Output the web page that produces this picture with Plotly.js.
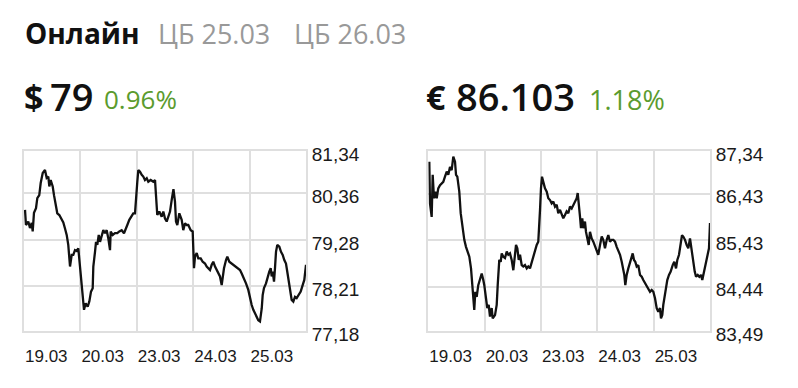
<!DOCTYPE html>
<html>
<head>
<meta charset="utf-8">
<script src="https://cdn.plot.ly/plotly-3.0.1.min.js"></script>
<style>
  html, body { margin: 0; padding: 0; background: #fff; }
  #chart { width: 798px; height: 388px; }
</style>
</head>
<body>
<div id="chart"></div>
<script>
// Trading days shown on both charts (weekend skipped), positioned by day index
const dayLabels = ['19.03', '20.03', '23.03', '24.03', '25.03'];
const dayStarts = [0, 1, 2, 3, 4];

// USD/RUB intraday quotes: position in trading days, rate
const usdDay = [0.018,0.035,0.076,0.106,0.137,0.154,0.177,0.213,0.236,0.271,0.296,0.332,0.372,0.402,0.431,0.449,0.473,0.509,0.532,0.567,0.590,0.626,0.668,0.697,0.727,0.757,0.785,0.803,0.816,0.846,0.874,0.904,0.934,0.963,0.980,1.005,1.023,1.041,1.064,1.094,1.129,1.158,1.188,1.218,1.229,1.259,1.277,1.300,1.325,1.348,1.378,1.406,1.436,1.466,1.495,1.525,1.537,1.573,1.613,1.654,1.690,1.732,1.773,1.809,1.832,1.867,1.910,1.938,1.968,1.986,2.009,2.027,2.057,2.087,2.115,2.145,2.176,2.204,2.246,2.293,2.323,2.340,2.363,2.399,2.441,2.470,2.500,2.530,2.559,2.589,2.619,2.650,2.677,2.695,2.718,2.754,2.796,2.824,2.855,2.885,2.913,2.956,2.991,3.002,3.014,3.032,3.062,3.090,3.133,3.168,3.209,3.239,3.268,3.298,3.328,3.356,3.387,3.417,3.445,3.475,3.505,3.523,3.546,3.582,3.605,3.640,3.683,3.723,3.759,3.800,3.830,3.860,3.901,3.936,3.977,4.007,4.037,4.066,4.096,4.126,4.154,4.184,4.215,4.232,4.255,4.291,4.314,4.349,4.374,4.392,4.410,4.433,4.450,4.468,4.491,4.527,4.557,4.587,4.615,4.645,4.668,4.693,4.716,4.746,4.775,4.805,4.835,4.863,4.906,4.941,4.970,5.000];
const usdRate = [79.98,79.63,79.71,79.56,79.68,79.48,79.91,80.02,80.25,80.32,80.60,80.83,80.90,80.72,80.75,80.52,80.67,80.52,80.32,80.05,79.90,79.86,79.75,79.69,79.55,79.40,79.17,78.94,78.67,78.94,78.94,79.05,79.03,79.09,78.86,78.40,78.17,77.86,77.67,77.82,77.74,77.86,78.09,78.17,78.67,79.01,79.24,79.17,79.40,79.24,79.40,79.51,79.44,79.51,79.32,79.05,79.48,79.40,79.44,79.44,79.48,79.51,79.44,79.59,79.63,79.75,79.86,79.90,79.90,80.32,80.63,80.90,80.86,80.79,80.75,80.67,80.71,80.63,80.67,80.63,80.67,80.32,79.86,79.94,79.82,79.94,79.78,79.71,79.82,79.94,80.21,80.46,80.17,79.71,79.63,79.90,79.75,79.51,79.67,79.63,79.63,79.51,79.48,79.01,78.63,78.90,78.98,78.86,78.86,78.78,78.74,78.67,78.63,78.59,78.71,78.78,78.67,78.59,78.55,78.44,78.24,78.44,78.63,78.82,78.90,78.78,78.74,78.71,78.67,78.63,78.59,78.51,78.40,78.28,78.13,77.94,77.78,77.67,77.59,77.51,77.43,77.40,77.70,78.01,78.17,78.28,78.40,78.55,78.63,78.44,78.55,78.32,78.63,79.01,79.17,79.13,79.01,78.94,78.82,78.74,78.55,78.32,78.09,77.90,77.86,77.97,77.94,78.01,78.09,78.24,78.36,78.71];

// EUR/RUB intraday quotes: position in trading days, rate
const eurDay = [0.018,0.030,0.060,0.078,0.101,0.124,0.149,0.177,0.208,0.238,0.266,0.296,0.327,0.355,0.385,0.415,0.444,0.474,0.492,0.515,0.550,0.575,0.611,0.639,0.669,0.699,0.728,0.758,0.781,0.799,0.816,0.834,0.859,0.887,0.918,0.948,0.976,0.994,1.024,1.047,1.072,1.095,1.125,1.143,1.184,1.214,1.232,1.242,1.260,1.285,1.303,1.331,1.361,1.392,1.420,1.450,1.480,1.509,1.539,1.557,1.580,1.605,1.628,1.658,1.686,1.716,1.747,1.775,1.805,1.835,1.864,1.894,1.924,1.952,1.970,1.983,2.000,2.018,2.041,2.071,2.102,2.130,2.160,2.190,2.219,2.249,2.279,2.307,2.338,2.368,2.396,2.426,2.456,2.485,2.515,2.545,2.574,2.604,2.634,2.652,2.670,2.693,2.710,2.733,2.751,2.781,2.799,2.822,2.847,2.870,2.900,2.929,2.959,2.989,3.017,3.048,3.078,3.106,3.136,3.167,3.195,3.225,3.255,3.284,3.314,3.344,3.372,3.403,3.433,3.461,3.479,3.497,3.521,3.550,3.580,3.610,3.628,3.651,3.674,3.699,3.727,3.758,3.788,3.816,3.846,3.876,3.905,3.935,3.965,3.994,4.024,4.054,4.082,4.113,4.130,4.153,4.171,4.201,4.219,4.242,4.272,4.302,4.338,4.366,4.397,4.420,4.450,4.480,4.503,4.526,4.556,4.586,4.615,4.645,4.675,4.704,4.729,4.752,4.782,4.810,4.840,4.863,4.893,4.923,4.952,4.982,5.000];
const eurRate = [87.11,86.22,85.93,86.83,86.33,86.47,86.33,86.54,86.61,86.65,86.68,86.79,86.90,86.83,87.00,86.93,87.22,87.11,86.83,86.79,86.47,86.01,85.61,85.44,85.29,85.19,85.08,84.83,84.54,84.26,83.94,84.33,84.22,84.47,84.62,84.72,84.58,84.47,84.19,83.98,84.05,83.80,83.98,83.76,83.83,84.05,84.47,84.83,85.01,84.97,85.15,85.08,85.05,85.19,85.12,85.15,85.01,84.79,85.19,85.33,85.26,85.01,85.12,84.90,84.87,84.90,84.83,84.87,84.83,84.97,85.05,85.19,85.33,85.40,85.69,86.08,86.54,86.79,86.68,86.54,86.47,86.33,86.29,86.22,86.26,86.15,86.19,86.01,86.08,85.97,85.90,85.97,86.05,86.01,86.15,86.11,86.19,86.26,86.33,86.44,86.11,85.93,85.69,85.90,85.69,85.83,85.61,85.47,85.33,85.61,85.47,85.40,85.29,85.22,85.12,85.33,85.51,85.44,85.26,85.44,85.54,85.40,85.44,85.44,85.40,85.29,85.22,85.12,84.97,84.83,84.69,84.47,84.69,84.83,84.94,85.05,85.15,85.01,84.97,84.87,84.90,84.69,84.65,84.58,84.51,84.47,84.40,84.33,84.37,84.33,84.19,83.98,83.90,83.98,83.76,83.83,84.05,84.26,84.40,84.58,84.69,84.76,84.90,84.97,84.83,85.01,85.12,85.33,85.54,85.51,85.44,85.33,85.26,85.47,85.19,84.97,84.76,84.65,84.69,84.65,84.69,84.58,84.76,84.90,85.05,85.26,85.80];

// Price scale ticks printed beside each chart
const usdTicks = [81.34, 80.36, 79.28, 78.21, 77.18];
const eurTicks = [87.34, 86.43, 85.43, 84.44, 83.49];

// Header figures
const tabs = ['Онлайн', 'ЦБ 25.03', 'ЦБ 26.03'];
const usdNow = '79', usdChange = '0.96%';
const eurNow = '86.103', eurChange = '1.18%';

const W = 798, H = 388;
const px = x => x / W;
const py = y => 1 - y / H;

const gridColor = '#dfdfdf';
const labelFont = { family: 'Liberation Sans, Arial, sans-serif', size: 17, color: '#1a1a1a' };

function xAxis(domain, anchor) {
  return {
    domain: domain, anchor: anchor, range: [0, 5],
    tickmode: 'array', tickvals: dayStarts, ticktext: dayLabels,
    ticklabelposition: 'outside right', ticklabelstandoff: 9,
    ticks: '', showgrid: true, gridcolor: gridColor, gridwidth: 2,
    showline: true, mirror: true, linecolor: gridColor, linewidth: 2,
    zeroline: false, fixedrange: true, tickfont: labelFont
  };
}
function yAxis(domain, anchor, ticks) {
  return {
    domain: domain, anchor: anchor, side: 'right',
    range: [ticks[ticks.length - 1], ticks[0]],
    tickmode: 'array', tickvals: ticks, tickformat: '.2f',
    ticks: '', ticklabelstandoff: 0, ticklabelshift: 3,
    showgrid: true, gridcolor: gridColor, gridwidth: 2,
    showline: true, mirror: true, linecolor: gridColor, linewidth: 2,
    zeroline: false, fixedrange: true,
    tickfont: Object.assign({}, labelFont, { size: 19 })
  };
}

const lineStyle = { color: '#111', width: 2.3 };
const traces = [
  { x: usdDay, y: usdRate, xaxis: 'x', yaxis: 'y', type: 'scatter', mode: 'lines', line: lineStyle, hoverinfo: 'skip' },
  { x: eurDay, y: eurRate, xaxis: 'x2', yaxis: 'y2', type: 'scatter', mode: 'lines', line: lineStyle, hoverinfo: 'skip' }
];

const yDom = [py(331), py(151)];
const head = 'Open Sans, Noto Sans, sans-serif';
function note(text, x, y, size, color, weight) {
  return {
    text: text, xref: 'paper', yref: 'paper', x: px(x), y: py(y),
    xanchor: 'left', yanchor: 'middle', showarrow: false,
    font: { family: head, size: size, color: color, weight: weight }
  };
}

const layout = {
  width: W, height: H,
  margin: { l: 0, r: 0, t: 0, b: 0 },
  paper_bgcolor: '#fff', plot_bgcolor: '#fff',
  showlegend: false,
  separators: ', ',
  xaxis: xAxis([px(24), px(306)], 'y'),
  yaxis: yAxis(yDom, 'x', usdTicks),
  xaxis2: xAxis([px(428.3), px(710)], 'y2'),
  yaxis2: yAxis(yDom, 'x2', eurTicks),
  annotations: [
    note(tabs[0], 23, 33, 28, '#111', 700),
    note(tabs[1], 156, 33, 27, '#999', 400),
    note(tabs[2], 292, 33, 27, '#999', 400),
    note('$', 22, 97, 34, '#111', 700),
    note(usdNow, 48, 96, 38, '#111', 600),
    note(usdChange, 102, 99, 26, '#5b9b2e', 400),
    note('€', 424, 97, 34, '#111', 700),
    note(eurNow, 454, 96, 38, '#111', 600),
    note(eurChange, 587, 99, 27, '#5b9b2e', 400)
  ]
};

Plotly.newPlot('chart', traces, layout, { staticPlot: true, displayModeBar: false });
</script>
</body>
</html>
